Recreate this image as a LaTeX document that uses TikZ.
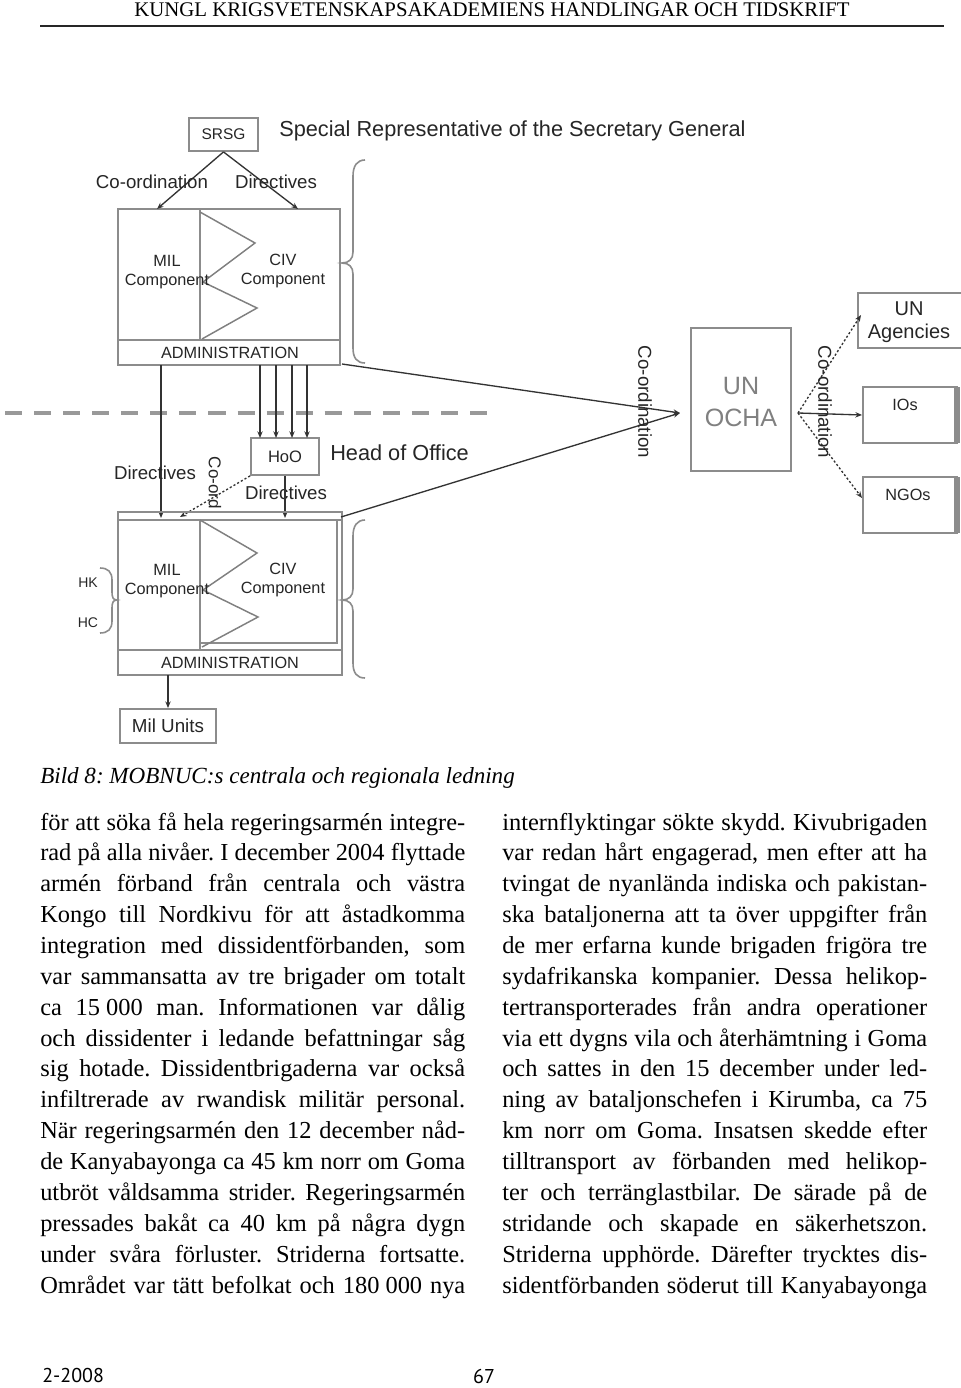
\documentclass[tikz,border=0pt]{standalone}
\usepackage{fontspec}
\setmainfont{Liberation Serif}
\newfontfamily\dgfont{Liberation Sans}
\newfontfamily\ftfont{PT Sans}
\usetikzlibrary{arrows.meta,fit}
\frenchspacing
\newcommand\dgs[1]{\dgfont\fontsize{#1}{#1}\selectfont}
\newcommand\jline[1]{\makebox[318.75pt][s]{#1}}
\begin{document}
\begin{tikzpicture}[x=0.75pt,y=-0.75pt,
  gbox/.style={draw=black!45,line width=1.4pt,inner sep=0pt},
  gline/.style={draw=black!45,line width=1.2pt},
  zig/.style={draw=black!50,line width=1.1pt},
  arr/.style={draw=black!80,line width=1pt,-{Stealth[length=5pt,width=4pt]}},
  dotarr/.style={arr,dash pattern=on 1.6pt off 1.6pt},
  lbl/.style={inner sep=0pt,text=black!85,font=\dgs{14}},
  comp/.style={inner sep=0pt,text=black!85,font={\dgfont\fontsize{12.2}{14.3}\selectfont},align=center},
  big/.style={inner sep=0pt,text=black!85,font=\dgs{16.3}},
  body/.style={inner sep=0pt,anchor=base west,font={\frenchspacing\fontsize{18.3}{22}\selectfont}}]
\useasboundingbox (0,0) rectangle (960,1388);
\fill[white] (0,0) rectangle (960,1388);

% header
\node (hdr) [inner sep=0pt,anchor=base,font={\fontsize{15.6}{16}\selectfont}] at (492,17) {KUNGL KRIGSVETENSKAPSAKADEMIENS HANDLINGAR OCH TIDSKRIFT};
\coordinate (ruleL) at (40,26); \coordinate (ruleR) at (944,26);
\draw[line width=1.2pt,black!85] (ruleL) -- (ruleR);

% SRSG
\node[gbox,fit={(189,118) (258,151)}] (srsg) {};
\node[lbl,font=\dgs{11.6}] (srsgt) at (srsg.center) {SRSG};
\node[big,anchor=west] (srsgl) at (279,131) {Special Representative of the Secretary General};

% top box
\node[gbox,fit={(118,209) (340,365)}] (topbox) {};
\coordinate (tbA) at (157,209); \coordinate (tbB) at (298,209);
\draw[arr] (srsg.south) -- (tbA);
\draw[arr] (srsg.south) -- (tbB);
\node[lbl] (coord1) at (152,182) {Co-ordination};
\node[lbl] (dir1) at (276,182) {Directives};
\draw[gline] (200,209) -- (200,340);
\draw[gline] (118,340) -- (340,340);
\draw[zig] (200,212) -- (255,243) -- (203,282) -- (257,308) -- (202,339);
\node[comp] (mil1) at (167,272) {MIL\\Component};
\node[comp] (civ1) at (283,271) {CIV\\Component};
\node[comp] (adm1) at (230,353) {ADMINISTRATION};
\draw[gline] (365,160) .. controls (357,160) and (353,166) .. (353,176) -- (353,252) .. controls (353,259) and (349,263) .. (342,263) .. controls (349,263) and (353,267) .. (353,274) -- (353,348) .. controls (353,358) and (357,363) .. (365,363);

% dashed boundary
\coordinate (dashL) at (5,413); \coordinate (dashR) at (495,413);
\draw[black!40,line width=3.4pt,dash pattern=on 12.8pt off 9pt] (dashL) -- (dashR);

% HoO
\node[gbox,fit={(251,438) (319,475)}] (hoo) {};
\node[lbl,font=\dgs{12.4}] (hoot) at (hoo.center) {HoO};
\node[big,anchor=west] (hool) at (330,453) {Head of Office};
\foreach \xx [count=\k] in {260,276,292,307}{
  \coordinate (ha\k) at (\xx,365); \coordinate (hb\k) at (\xx,438);
  \draw[arr] (ha\k) -- (hb\k);}

% long directive line
\coordinate (dA) at (161,365); \coordinate (dB) at (161,518);
\draw[arr] (dA) -- (dB);
\node[lbl] (dir2) at (155,473) {Directives};
\node[lbl,rotate=-90,font=\dgs{12.8}] (cord2) at (215,483) {Co-ord};
\node[lbl] (dir3) at (286,493) {Directives};
\coordinate (coIn) at (180,517); \coordinate (hoIn) at (285,518);
\draw[dotarr] (hoo.south west) -- (coIn);
\draw[arr] (hoo.south) -- (hoIn);

% lower box
\node[gbox,fit={(118,512) (342,675)}] (lowbox) {};
\draw[gline] (118,520) -- (342,520);
\draw[gline] (200,520) -- (200,650);
\draw[gline] (118,650) -- (342,650);
\draw[gline] (200,643) -- (337,643) -- (337,520);
\draw[zig] (200,520) -- (257,553) -- (203,590) -- (258,617) -- (202,647);
\node[comp] (mil2) at (167,581) {MIL\\Component};
\node[comp] (civ2) at (283,580) {CIV\\Component};
\node[comp] (adm2) at (230,663) {ADMINISTRATION};
\draw[gline] (365,520) .. controls (357,520) and (353,526) .. (353,536) -- (353,589) .. controls (353,596) and (349,600) .. (342,600) .. controls (349,600) and (353,604) .. (353,611) -- (353,663) .. controls (353,673) and (357,678) .. (365,678);
\draw[gline] (100,568) .. controls (108,568) and (112,572) .. (112,580) -- (112,592) .. controls (112,597) and (113,600) .. (117,600) .. controls (113,600) and (112,603) .. (112,608) -- (112,621) .. controls (112,629) and (108,633) .. (100,633);
\node[lbl,font=\dgs{10.5}] (hk) at (88,583) {HK};
\node[lbl,font=\dgs{10.5}] (hc) at (88,623) {HC};

% Mil units
\node[gbox,fit={(120,709) (216,743)}] (milu) {};
\node[lbl,font=\dgs{14.1}] (milut) at (milu.center) {Mil Units};
\coordinate (admB) at (168,675);
\draw[arr] (admB) -- (milu.north);

% OCHA
\node[gbox,fit={(691,328) (791,471)}] (ocha) {};
\node[inner sep=0pt,text=black!50,align=center,font={\dgfont\fontsize{18.8}{23.3}\selectfont}] (ochat) at (741,402) {UN\\OCHA};
\coordinate (tbSE) at (342,364); \coordinate (lbNE) at (341,517);
\coordinate (ochaIn) at (680,413);
\draw[arr] (tbSE) -- (ochaIn);
\draw[arr] (lbNE) -- (ochaIn);
\node[lbl,rotate=-90] (cord3) at (645,402) {Co-ordination};

\node[gbox,fit={(858,293) (962,348)}] (unag) {};
\node[gbox,fit={(863,387) (957,443)}] (ios) {};
\node[gbox,fit={(863,477) (957,533)}] (ngos) {};
\fill[black!45] (954,387) rectangle (960,443);
\fill[black!45] (954,477) rectangle (960,533);
\node[inner sep=0pt,text=black!85,align=center,font={\dgfont\fontsize{15}{17.3}\selectfont}] (unagt) at (909,322) {UN\\Agencies};
\node[lbl,font=\dgs{12.2}] (iost) at (905,405) {IOs};
\node[lbl,font=\dgs{12.2}] (ngost) at (908,495) {NGOs};
\coordinate (ochaOut) at (798,413);
\coordinate (uaIn) at (861,315); \coordinate (ngIn) at (862,498);
\draw[dotarr] (ochaOut) -- (uaIn);
\draw[arr] (ochaOut) -- (ios.west);
\draw[dotarr] (ochaOut) -- (ngIn);
\node[lbl,rotate=-90] (cord4) at (825,402) {Co-ordination};

% caption
\node (cap) [inner sep=0pt,anchor=base west,font={\itshape\fontsize{17.3}{20}\selectfont}] at (40,783) {Bild 8: MOBNUC:s centrala och regionala ledning};

% left column
\foreach \t [count=\i from 0] in {
{för att söka få hela regeringsarmén integre-},
{rad på alla nivåer. I december 2004 flyttade},
{armén förband från centrala och västra},
{Kongo till Nordkivu för att åstadkomma},
{integration med dissidentförbanden, som},
{var sammansatta av tre brigader om totalt},
{ca 15\hspace{0.25em}000 man. Informationen var dålig},
{och dissidenter i ledande befattningar såg},
{sig hotade. Dissidentbrigaderna var också},
{infiltrerade av rwandisk militär personal.},
{När regeringsarmén den 12 december nåd-},
{de Kanyabayonga ca 45 km norr om Goma},
{utbröt våldsamma strider. Regeringsarmén},
{pressades bakåt ca 40 km på några dygn},
{under svåra förluster. Striderna fortsatte.},
{Området var tätt befolkat och 180\hspace{0.25em}000 nya}}
  \node[body] (L\i) at (40,{830+30.87*\i}) {\jline{\t}};

% right column
\foreach \t [count=\i from 0] in {
{internflyktingar sökte skydd. Kivubrigaden},
{var redan hårt engagerad, men efter att ha},
{tvingat de nyanlända indiska och pakistan-},
{ska bataljonerna att ta över uppgifter från},
{de mer erfarna kunde brigaden frigöra tre},
{sydafrikanska kompanier. Dessa helikop-},
{tertransporterades från andra operationer},
{via ett dygns vila och återhämtning i Goma},
{och sattes in den 15 december under led-},
{ning av bataljonschefen i Kirumba, ca 75},
{km norr om Goma. Insatsen skedde efter},
{tilltransport av förbanden med helikop-},
{ter och terränglastbilar. De särade på de},
{stridande och skapade en säkerhetszon.},
{Striderna upphörde. Därefter trycktes dis-},
{sidentförbanden söderut till Kanyabayonga}}
  \node[body] (R\i) at (502,{830+30.87*\i}) {\jline{\t}};

% footer
\node (ft1) [inner sep=0pt,anchor=base west,font={\ftfont\fontsize{15}{15}\selectfont}] at (42,1382) {2-2008};
\node (ft2) [inner sep=0pt,anchor=base,font={\ftfont\fontsize{15}{15}\selectfont}] at (484,1383) {67};
\end{tikzpicture}
\end{document}
